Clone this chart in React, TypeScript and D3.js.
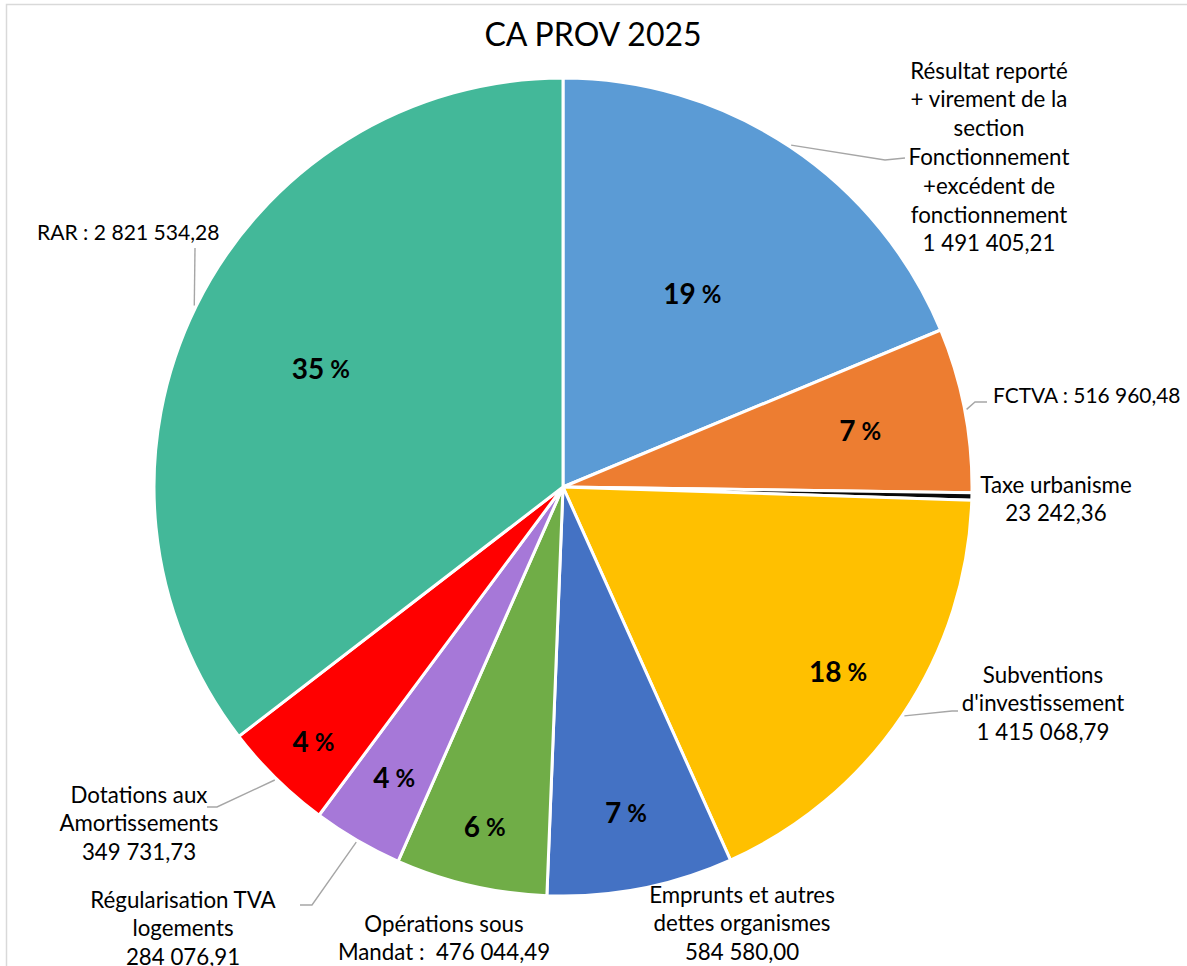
import React from "react";
import * as d3 from "d3";

const categories = [
  "Résultat reporté + virement de la section Fonctionnement +excédent de fonctionnement",
  "FCTVA",
  "Taxe urbanisme",
  "Subventions d'investissement",
  "Emprunts et autres dettes organismes",
  "Opérations sous Mandat",
  "Régularisation TVA logements",
  "Dotations aux Amortissements",
  "RAR",
];
const values = [
  1491405.21, 516960.48, 23242.36, 1415068.79, 584580.0, 476044.49, 284076.91, 349731.73, 2821534.28,
];
const percentLabels = ["19 %", "7 %", "", "18 %", "7 %", "6 %", "4 %", "4 %", "35 %"];
const labelLines = [
  ["Résultat reporté", "+ virement de la", "section", "Fonctionnement", "+excédent de", "fonctionnement", "1 491 405,21"],
  ["FCTVA : 516 960,48"],
  ["Taxe urbanisme", "23 242,36"],
  ["Subventions", "d'investissement", "1 415 068,79"],
  ["Emprunts et autres", "dettes organismes", "584 580,00"],
  ["Opérations sous", "Mandat :  476 044,49"],
  ["Régularisation TVA", "logements", "284 076,91"],
  ["Dotations aux", "Amortissements", "349 731,73"],
  ["RAR : 2 821 534,28"],
];
const colors = ["#5B9BD5", "#ED7D31", "#0a0a0a", "#FFC000", "#4472C4", "#70AD47", "#A678D8", "#FF0000", "#43B899"];
const title = "CA PROV 2025";

// layout (not data)
const W = 1187, H = 966;
const cx = 563, cy = 487, R = 409;
const FONT = "Lato, 'Open Sans', sans-serif";
const LH = 28.8;
const pctRadius = [0.57, 0.74, 0, 0.81, 0.81, 0.85, 0.82, 0.87, 0.66];
// text anchor for each outside label: [x, firstLineY, anchor, fontSize]
const labelPos: [number, number, string, number][] = [
  [989, 70, "middle", 22.3],
  [993, 394, "start", 20.9],
  [1056, 484, "middle", 22.3],
  [1043, 674, "middle", 22.3],
  [742, 894, "middle", 22.3],
  [444, 923, "middle", 22.3],
  [183, 899, "middle", 22.3],
  [139, 794, "middle", 22.3],
  [37, 231, "start", 21.1],
];
// leader elbow + end points (null => no leader)
const leaders: ([number, number][] | null)[] = [
  [[885, 160], [905, 158]],
  [[975, 402], [987, 402]],
  null,
  [[952, 711], [958, 711]],
  null,
  null,
  [[312, 905], [300, 905]],
  [[217, 807], [207, 807]],
  [[195, 248]],
];

export default function App() {
  const pie = d3.pie<number>().sort(null).value((d) => d)(values);
  const arc = d3.arc<d3.PieArcDatum<number>>().innerRadius(0).outerRadius(R);

  return (
    <svg
      width={W}
      height={H}
      style={{ position: "absolute", left: 0, top: 0, background: "#fff" }}
      fontFamily={FONT}
    >
      <rect x={6.5} y={4.5} width={W + 10} height={H + 10} fill="#fff" stroke="#d9d9d9" strokeWidth={1.5} />
      <text x={593} y={33} textAnchor="middle" dominantBaseline="central" fontSize={32} fill="#000">
        {title}
      </text>
      <g transform={`translate(${cx},${cy})`}>
        {pie.map((d, i) => (
          <path key={i} d={arc(d) || ""} fill={colors[i]} stroke="#fff" strokeWidth={3} strokeLinejoin="round" />
        ))}
        {pie.map((d, i) => {
          if (!percentLabels[i]) return null;
          const a = (d.startAngle + d.endAngle) / 2;
          const r = R * pctRadius[i];
          const [num, pct] = percentLabels[i].split(" ");
          return (
            <text
              key={"p" + i}
              x={r * Math.sin(a)}
              y={-r * Math.cos(a)}
              textAnchor="middle"
              dominantBaseline="central"
              fontSize={28}
              fontWeight="bold"
              fill="#000"
            >
              {num}
              <tspan fontSize={24} dx={6}>{pct}</tspan>
            </text>
          );
        })}
      </g>
      {pie.map((d, i) => {
        const L = leaders[i];
        if (!L) return null;
        const a = (d.startAngle + d.endAngle) / 2;
        const sx = cx + (R + 2) * Math.sin(a);
        const sy = cy - (R + 2) * Math.cos(a);
        const pts: [number, number][] = [[sx, sy], ...L];
        return (
          <path
            key={"l" + i}
            d={d3.line()(pts) || ""}
            fill="none"
            stroke="#a6a6a6"
            strokeWidth={1.4}
          />
        );
      })}
      {labelLines.map((lines, i) => {
        const [x, y0, anchor, fs] = labelPos[i];
        return (
          <text key={"t" + i} fontSize={fs} fill="#000" textAnchor={anchor as any} style={{ whiteSpace: "pre" }}>
            {lines.map((ln, j) => (
              <tspan key={j} x={x} y={y0 + j * LH} dominantBaseline="central">
                {ln}
              </tspan>
            ))}
          </text>
        );
      })}
    </svg>
  );
}
